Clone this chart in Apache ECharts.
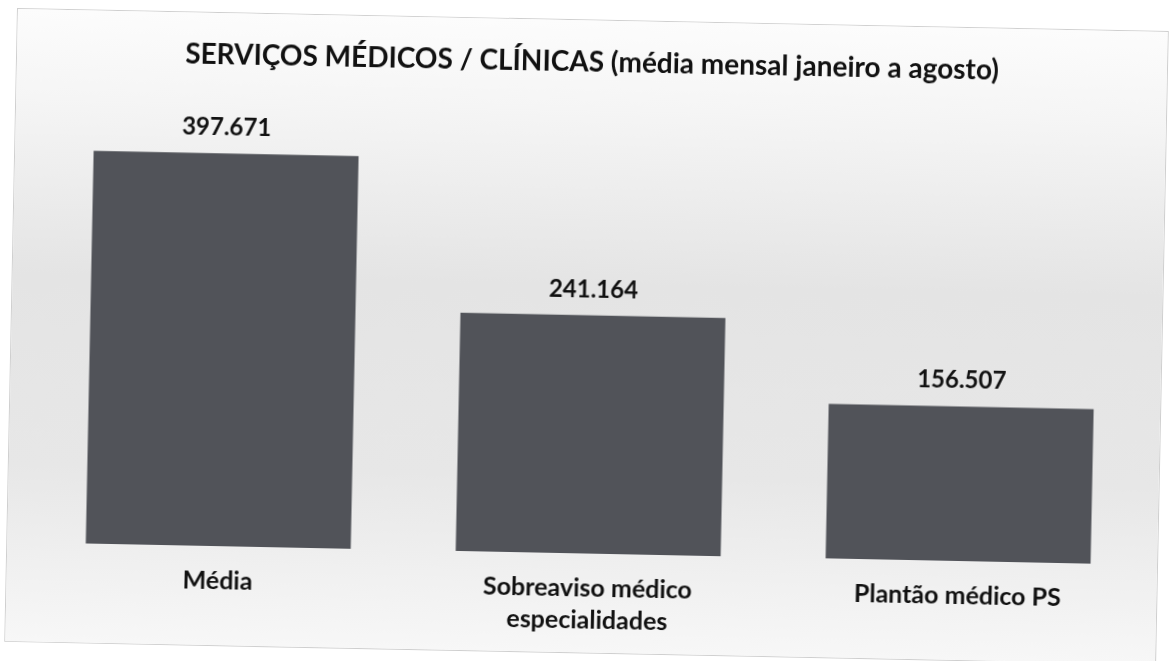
<!DOCTYPE html>
<html>
<head>
<meta charset="utf-8">
<script src="https://cdn.jsdelivr.net/npm/echarts@6/dist/echarts.min.js"></script>
<style>
    html, body { margin: 0; padding: 0; background: #fff; overflow: hidden; }
    #chart {
        position: absolute;
        left: 17px;
        top: 8px;
        width: 1150px;
        height: 632px;
        border: 1px solid #cfcfcf;
        transform: rotate(1.15deg);
        transform-origin: 0 0;
    }
</style>
</head>
<body>
<div id="chart"></div>
<script>
    // dados
    var categorias = ['Média', 'Sobreaviso médico\nespecialidades', 'Plantão médico PS'];
    var valores = [397.671, 241.164, 156.507];

    var chart = echarts.init(document.getElementById('chart'));

    var option = {
        backgroundColor: {
            type: 'linear',
            x: 0, y: 0, x2: 0, y2: 1,
            colorStops: [
                { offset: 0, color: '#fcfcfc' },
                { offset: 0.14, color: '#f5f5f5' },
                { offset: 0.42, color: '#e4e4e4' },
                { offset: 0.72, color: '#e7e7e7' },
                { offset: 1, color: '#f7f7f7' }
            ]
        },

        title: {
            text: 'SERVIÇOS MÉDICOS / CLÍNICAS (média mensal janeiro a agosto)',
            left: 'center',
            top: 23,
            textStyle: {
                fontFamily: 'Lato',
                fontSize: 28,
                fontWeight: 'bold',
                color: '#111'
            }
        },

        grid: {
            left: 26,
            right: 14,
            top: 138,
            bottom: 99
        },

        xAxis: {
            type: 'category',
            data: categorias,
            axisLine: { show: false },
            axisTick: { show: false },
            axisLabel: {
                margin: 19,
                fontFamily: 'Lato',
                fontSize: 25,
                fontWeight: 'bold',
                lineHeight: 32,
                color: '#111'
            }
        },

        yAxis: {
            type: 'value',
            min: 0,
            max: 400,
            show: false
        },

        series: [
            {
                type: 'bar',
                data: valores,
                barWidth: 265,
                itemStyle: {
                    color: '#515359'
                },
                label: {
                    show: true,
                    position: 'top',
                    distance: 14,
                    fontFamily: 'Lato',
                    fontSize: 24,
                    fontWeight: 'bold',
                    color: '#111',
                    formatter: function (p) {
                        return p.value.toFixed(3);
                    }
                }
            }
        ]
    };

    chart.setOption(option);
</script>
</body>
</html>
